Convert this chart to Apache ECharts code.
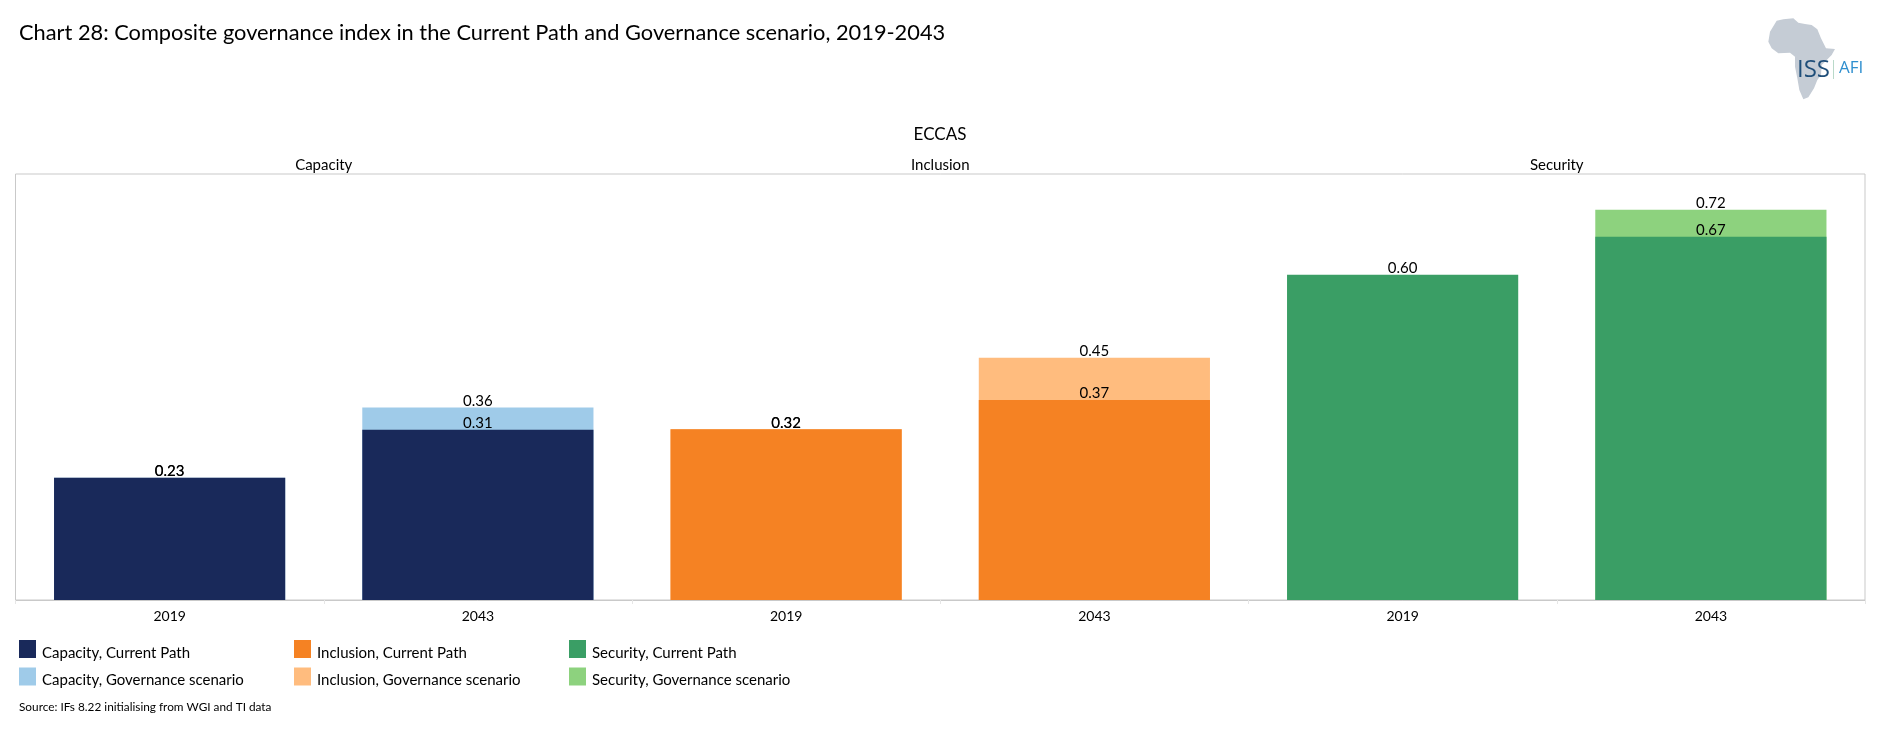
<!DOCTYPE html>
<html><head><meta charset="utf-8">
<style>html,body{margin:0;padding:0;background:#fff}#c{width:1880px;height:739px}</style>
<script src="https://cdn.jsdelivr.net/npm/echarts@6/dist/echarts.min.js"></script>
</head><body><div id="c"></div>
<script>
const FONT = 'Lato';
const years = ['2019','2043','2019','2043','2019','2043'];
const facets = ['Capacity','Inclusion','Security'];
const capacityGov = [0.2255,0.3551,null,null,null,null];
const capacityCP  = [0.2255,0.314,null,null,null,null];
const inclusionGov = [null,null,0.3151,0.447,null,null];
const inclusionCP  = [null,null,0.3151,0.369,null,null];
const securityGov = [null,null,null,null,null,0.72];
const securityCP  = [null,null,null,null,0.60,0.67];
const seriesDefs = [
  ['Capacity, Governance scenario', capacityGov, '#9fcbe9'],
  ['Capacity, Current Path', capacityCP, '#19295a'],
  ['Inclusion, Governance scenario', inclusionGov, '#ffbc7e'],
  ['Inclusion, Current Path', inclusionCP, '#f58223'],
  ['Security, Governance scenario', securityGov, '#8dd27e'],
  ['Security, Current Path', securityCP, '#3a9e65']
];
const legendCols = [
  ['Capacity, Current Path','Capacity, Governance scenario'],
  ['Inclusion, Current Path','Inclusion, Governance scenario'],
  ['Security, Current Path','Security, Governance scenario']
];
const legendX = [19, 294, 569];
const africa = [[110,62],[130,58],[160,55],[175,68],[195,72],[215,75],[232,88],[243,115],[258,145],[285,147],[275,165],[255,185],[245,195],[243,225],[232,240],[222,265],[205,292],[190,298],[178,270],[172,235],[165,200],[165,170],[150,158],[115,160],[95,145],[85,125],[90,95]];

const chart = echarts.init(document.getElementById('c'));
chart.setOption({
  animation:false,
  backgroundColor:'#fff',
  textStyle:{fontFamily:FONT,color:'#000'},
  title:[
    {text:'Chart 28: Composite governance index in the Current Path and Governance scenario, 2019-2043',left:19,top:22,padding:0,
     textStyle:{fontFamily:FONT,fontSize:21.8,fontWeight:'normal',color:'#000'}},
    {text:'ECCAS',left:940,top:126,padding:0,textAlign:'center',
     textStyle:{fontFamily:FONT,fontSize:17,fontWeight:'normal',color:'#000'}},
    {text:'Source: IFs 8.22 initialising from WGI and TI data',left:19,top:701,padding:0,
     textStyle:{fontFamily:FONT,fontSize:11.8,fontWeight:'normal',color:'#000'}}
  ],
  grid:{left:15.5,right:15,top:174,bottom:139,show:true,borderColor:'#c9c9c9',borderWidth:1,containLabel:false},
  xAxis:[
    {type:'category',data:years,position:'bottom',axisLine:{lineStyle:{color:'#c9c9c9'}},
     axisTick:{show:true,length:4,alignWithLabel:false,lineStyle:{color:'#e6e6e6'}},
     axisLabel:{fontFamily:FONT,fontSize:14,color:'#000',margin:9,interval:0}},
    {type:'category',data:facets,position:'top',axisLine:{show:false},axisTick:{show:false},
     axisLabel:{fontFamily:FONT,fontSize:15,color:'#000',margin:1,interval:0}}
  ],
  yAxis:{type:'value',min:0,max:0.786,show:false,splitLine:{show:false}},
  legend:legendCols.map((names,i)=>({
    data:names,orient:'vertical',left:legendX[i],top:640,itemWidth:17,itemHeight:18,itemGap:7,
    icon:'rect',selectedMode:false,padding:0,
    formatter:n=>'{t|'+n+'}',
    textStyle:{fontFamily:FONT,fontSize:15,color:'#000',
      rich:{t:{fontFamily:FONT,fontSize:15,color:'#000',padding:[8,0,0,1]}}}
  })),
  series:seriesDefs.map(([name,data,color])=>({
    name,type:'bar',data,barWidth:'75%',barGap:'-100%',
    itemStyle:{color},
    label:{show:true,position:'top',distance:-1,fontFamily:FONT,fontSize:15,color:'#000',
      formatter:p=>p.value==null?'':p.value.toFixed(2)}
  })),
  graphic:[
    {type:'polygon',x:1740,y:0,scaleX:1/3,scaleY:1/3,shape:{points:africa},style:{fill:'#c5ccd5'},silent:true},
    {type:'text',x:1797,y:58,style:{text:'ISS',fontFamily:'Open Sans',fontSize:24,fill:'#1f4e79'},silent:true},
    {type:'rect',shape:{x:1833,y:60,width:1,height:19},style:{fill:'#b9d9c9'},silent:true},
    {type:'text',x:1839,y:60,style:{text:'AFI',fontFamily:'Open Sans',fontSize:17,fill:'#2f8fcf'},silent:true}
  ]
});
</script></body></html>
